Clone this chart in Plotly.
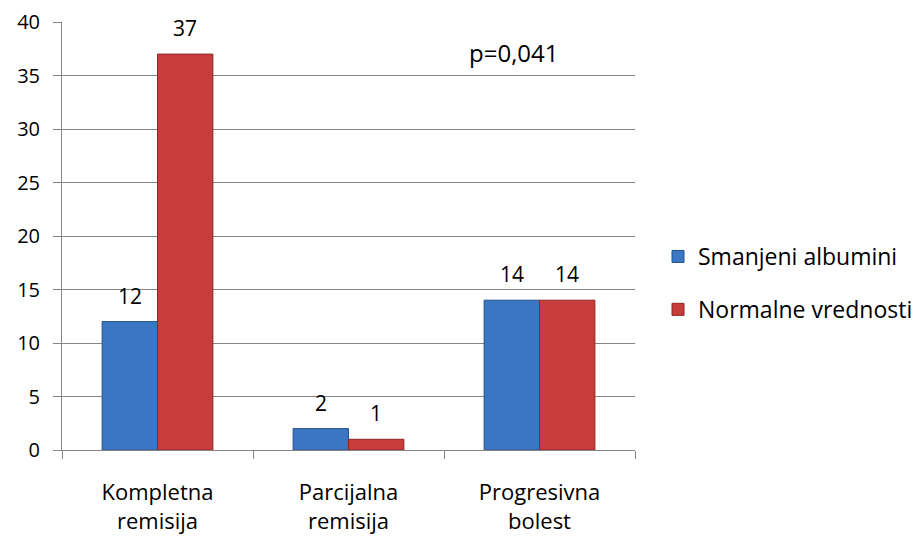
import plotly.graph_objects as go

categories = ["Kompletna<br>remisija", "Parcijalna<br>remisija", "Progresivna<br>bolest"]
series_names = ["Smanjeni albumini", "Normalne vrednosti"]
smanjeni = [12, 2, 14]
normalne = [37, 1, 14]
y_ticks = [0, 5, 10, 15, 20, 25, 30, 35, 40]
p_text = "p=0,041"

FONT = "'Open Sans', Lato, sans-serif"
AXIS_GREY = "#868686"

W, H = 917, 538
M = dict(l=62, r=282, t=22, b=88)
BARGAP = 0.42

fig = go.Figure()
fills = [("#3B76C2", "#24528F"), ("#C93C3C", "#8E2525")]
for name, vals, (fill, edge) in zip(series_names, [smanjeni, normalne], fills):
    fig.add_trace(go.Bar(
        name=name, x=categories, y=vals, legendgroup=name,
        marker=dict(color=fill, line=dict(color=edge, width=1)),
        cliponaxis=False,
    ))

# value labels placed above each bar of the group
cat_px = (W - M["l"] - M["r"]) / len(categories)
bar_px = cat_px * (1 - BARGAP) / len(series_names)
for j, vals in enumerate([smanjeni, normalne]):
    offset = (j - (len(series_names) - 1) / 2) * bar_px
    for cat, v in zip(categories, vals):
        fig.add_annotation(x=cat, y=v, text=str(v), showarrow=False,
                           xshift=offset, xanchor="center",
                           yanchor="bottom", yshift=10,
                           font=dict(size=21, color="black", family=FONT))

fig.add_annotation(text=p_text, xref="paper", yref="paper", x=0.789, y=0.928,
                   xanchor="center", yanchor="middle", showarrow=False,
                   font=dict(size=24, color="black", family=FONT))

fig.update_layout(
    width=W, height=H,
    margin=dict(**M, autoexpand=False),
    paper_bgcolor="white", plot_bgcolor="white",
    barmode="group", bargap=BARGAP, bargroupgap=0,
    font=dict(family=FONT, size=21, color="black"),
    showlegend=True,
    legend=dict(xref="container", yref="container", x=658 / W, y=1 - 283 / H,
                xanchor="left", yanchor="middle",
                font=dict(size=23, color="black", family=FONT),
                itemwidth=30, tracegroupgap=20, bgcolor="rgba(0,0,0,0)"),
)
fig.update_xaxes(
    showline=True, linecolor=AXIS_GREY, linewidth=1,
    ticks="outside", tickson="boundaries", ticklen=8, tickcolor=AXIS_GREY,
    tickfont=dict(size=22, family=FONT, color="black"),
    ticklabelstandoff=23,
    showgrid=False,
)
fig.update_yaxes(
    range=[0, 40], tickvals=y_ticks,
    showline=True, linecolor=AXIS_GREY, linewidth=1,
    ticks="outside", ticklen=8, tickcolor=AXIS_GREY,
    showgrid=True, gridcolor=AXIS_GREY, gridwidth=1,
    zeroline=False,
    tickfont=dict(size=20, family=FONT, color="black"),
    ticklabelstandoff=9,
)

fig.write_html("out.html")
